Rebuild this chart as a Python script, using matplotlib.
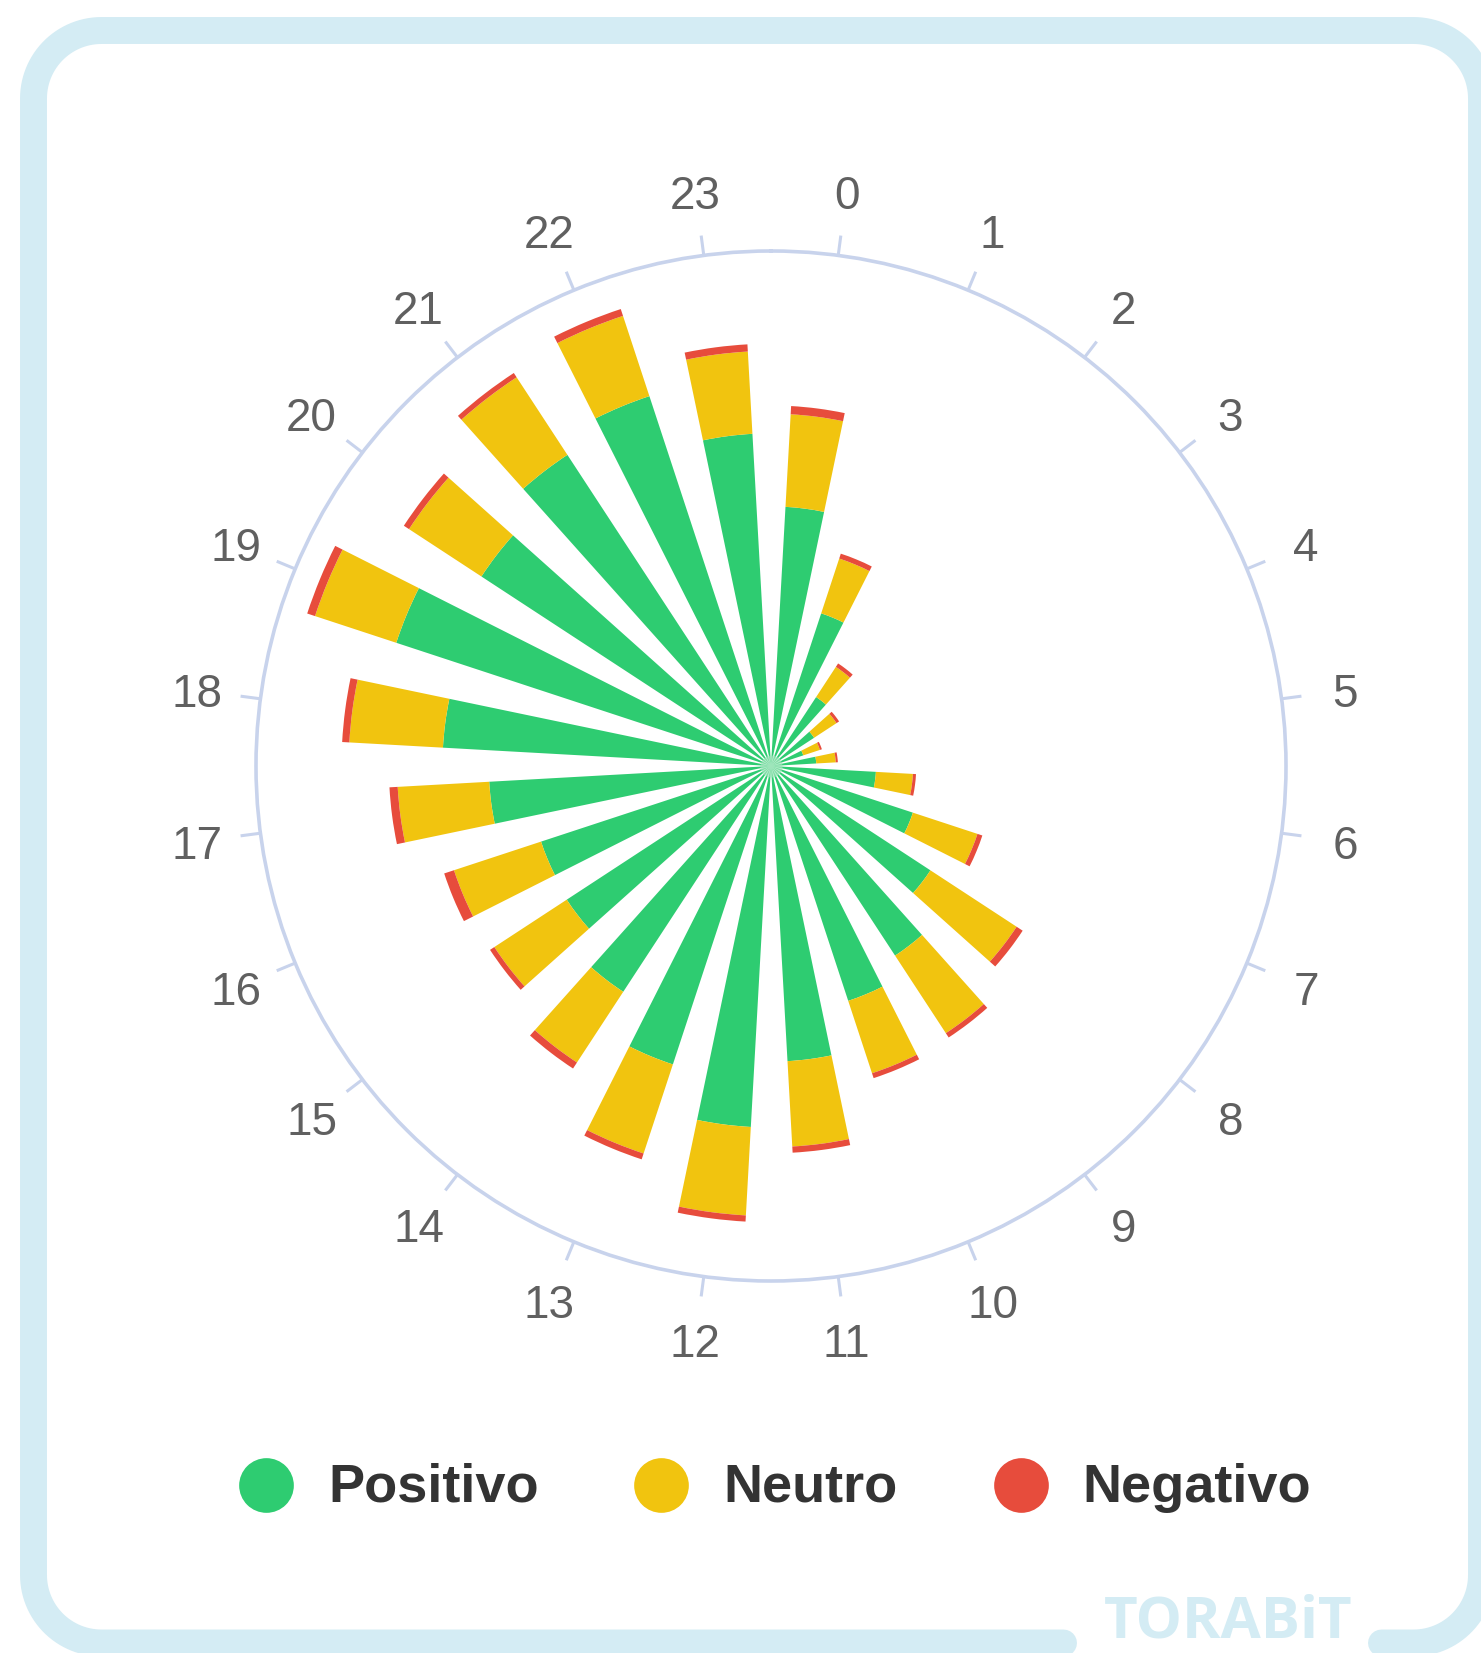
import numpy as np
import matplotlib.pyplot as plt
import matplotlib.transforms as mtransforms

# datos por hora (0-23)
horas = [str(h) for h in range(24)]
positivo = [252, 156, 80, 50, 33, 44, 102, 145, 185, 220, 240, 287,
            351, 305, 262, 237, 235, 274, 319, 383, 336, 361, 378, 323]
neutro = [90, 56, 35, 26, 17, 19, 36, 66, 100, 90, 74, 83,
          86, 91, 82, 84, 89, 89, 91, 83, 84, 90, 82, 80]
negativo = [8, 5, 4, 3, 2, 2, 3, 5, 7, 5, 5, 6,
            6, 6, 7, 5, 10, 8, 7, 8, 6, 5, 7, 7]
series = ['Positivo', 'Neutro', 'Negativo']
colores = ['#2ecc71', '#f1c40f', '#e74c3c']

plt.rcParams['font.family'] = ['Liberation Sans', 'DejaVu Sans']

W, H = 1481, 1653
fig = plt.figure(figsize=(W / 100, H / 100), dpi=100)
fig.patch.set_facecolor('white')

# marco redondeado de fondo (coordenadas en pixeles)
bg = fig.add_axes([0, 0, 1, 1])
bg.set_xlim(0, W)
bg.set_ylim(H, 0)
bg.axis('off')
L, T, R, B, r = 33.5, 30.5, 1481.5, 1643.0, 68

def arco(cx, cy, a0, a1):
    a = np.radians(np.linspace(a0, a1, 30))
    return list(cx + r * np.cos(a)), list(cy + r * np.sin(a))

xs, ys = [1063.5], [B]
for (ccx, ccy, a0, a1) in [(L + r, B - r, 90, 180), (L + r, T + r, 180, 270),
                           (R - r, T + r, 270, 360), (R - r, B - r, 0, 90)]:
    ax_, ay_ = arco(ccx, ccy, a0, a1)
    xs += ax_
    ys += ay_
xs.append(1381.5)
ys.append(B)
bg.plot(xs, ys, color='#d4ecf4', lw=19.4, solid_capstyle='round',
        solid_joinstyle='round')
bg.text(1104, 1651, 'TORABiT', fontsize=42, fontweight='bold',
        family='Open Sans', color='#d4ecf4', ha='left', va='bottom')

# grafico polar
cx, cy, rad = 771, 766, 515
rmax = 500
ax = fig.add_axes([(cx - rad) / W, (H - cy - rad) / H, 2 * rad / W, 2 * rad / H],
                  projection='polar')
ax.set_theta_zero_location('N')
ax.set_theta_direction(-1)

theta = np.radians(7.5 + 15 * np.arange(24))
ancho = np.radians(8.6)
pos = np.array(positivo)
neu = np.array(neutro)
neg = np.array(negativo)
ax.bar(theta, pos, width=ancho, color=colores[0], linewidth=0)
ax.bar(theta, neu, width=ancho, bottom=pos, color=colores[1], linewidth=0)
ax.bar(theta, neg, width=ancho, bottom=pos + neu, color=colores[2], linewidth=0)
ax.scatter([0], [0], s=250, color='#9fe5bb', alpha=0.7, linewidths=0, zorder=5)

ax.set_ylim(0, rmax)
ax.set_yticks([])
ax.set_xticks([])
ax.grid(False)
ax.spines['polar'].set_color('#c8d3ec')
ax.spines['polar'].set_linewidth(2.6)
ax.set_facecolor('none')

# marcas y etiquetas de las horas
baja = ax.transData + mtransforms.ScaledTranslation(0, -5 / 100, fig.dpi_scale_trans)
for t, h in zip(theta, horas):
    ax.plot([t, t], [rmax, rmax * 535 / 515], color='#c8d3ec', lw=2.2,
            clip_on=False, solid_capstyle='butt')
    ax.text(t, rmax * 579 / 515, h, fontsize=33, color='#606060',
            ha='center', va='center', transform=baja, clip_on=False)

# leyenda
marcas_x = [266, 661, 1021]
texto_x = [328, 723, 1082]
for nombre, col, mx, tx in zip(series, colores, marcas_x, texto_x):
    bg.scatter([mx], [1485], s=1550, color=col, linewidths=0)
    bg.text(tx, 1488, nombre, fontsize=39, fontweight='bold', color='#333333',
            ha='left', va='center')

plt.savefig('out.png', dpi=100)
